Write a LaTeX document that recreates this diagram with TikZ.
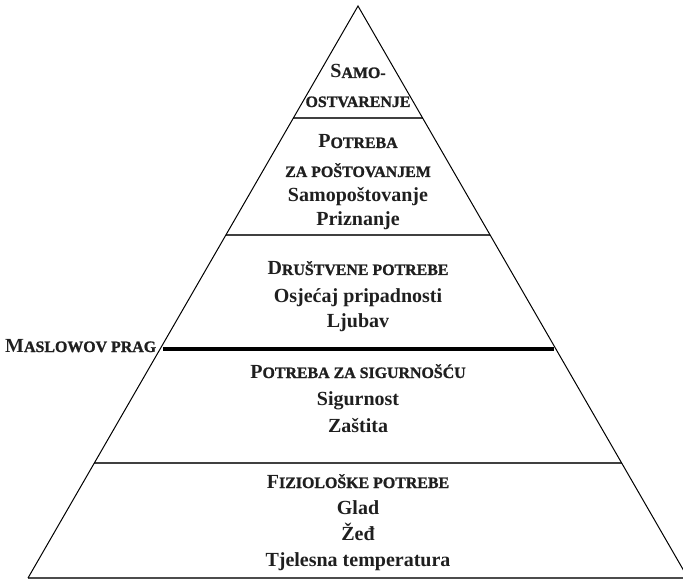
\documentclass[tikz,border=0pt]{standalone}
\usepackage{fontspec}
\setmainfont{Liberation Serif}
\usetikzlibrary{calc}
\newcommand\SCx[2]{#1{\fontsize{15.9}{19}\selectfont\addfontfeature{FakeBold=1.2}#2}}
\begin{document}
\begin{tikzpicture}[x=1pt,y=-1pt,
  txt/.style={inner sep=0pt, anchor=base, text=black!88, font=\bfseries\fontsize{20}{24}\selectfont},
  edge/.style={line width=1pt, black},
  band/.style={line width=1.3pt, black!75},
  prag/.style={line width=4pt, black}]
\useasboundingbox (0,0) rectangle (683,580);
\coordinate (A) at (358,6);
\coordinate (BL) at (28,578);
\coordinate (BR) at (688,578);
% band lines
\draw[band] ($(A)!0.1958!(BL)$) -- ($(A)!0.1958!(BR)$);
\draw[band] ($(A)!0.4003!(BL)$) -- ($(A)!0.4003!(BR)$);
\draw[band] ($(A)!0.7990!(BL)$) -- ($(A)!0.7990!(BR)$);
\draw[line width=2.4pt, black!70] (BL) -- (BR);
\draw[edge] (BL) -- (A) -- (BR);
\coordinate (T1) at (163,349);
\coordinate (T2) at (554,349);
\draw[prag] (T1) -- (T2);
% texts
\node[txt] (s1) at (358,78) {\SCx{S}{AMO-}};
\node[txt] (s2) at (358,107) {\SCx{}{OSTVARENJE}};
\node[txt] (p1) at (358,148) {\SCx{P}{OTREBA}};
\node[txt] (p2) at (358,177) {\SCx{}{ZA POŠTOVANJEM}};
\node[txt] (p3) at (358,202) {Samopoštovanje};
\node[txt] (p4) at (358,226) {Priznanje};
\node[txt] (d1) at (358,275) {\SCx{D}{RUŠTVENE POTREBE}};
\node[txt] (d2) at (358,302) {Osjećaj pripadnosti};
\node[txt] (d3) at (358,327) {Ljubav};
\node[txt] (g1) at (358,378) {\SCx{P}{OTREBA ZA SIGURNOŠĆU}};
\node[txt] (g2) at (358,405) {Sigurnost};
\node[txt] (g3) at (358,432) {Zaštita};
\node[txt] (f1) at (358,488) {\SCx{F}{IZIOLOŠKE POTREBE}};
\node[txt] (f2) at (358,514) {Glad};
\node[txt] (f3) at (358,540) {Žeđ};
\node[txt] (f4) at (358,566) {Tjelesna temperatura};
\node[txt, anchor=base west] (mp) at (5,352) {\SCx{M}{ASLOWOV PRAG}};
\end{tikzpicture}
\end{document}
